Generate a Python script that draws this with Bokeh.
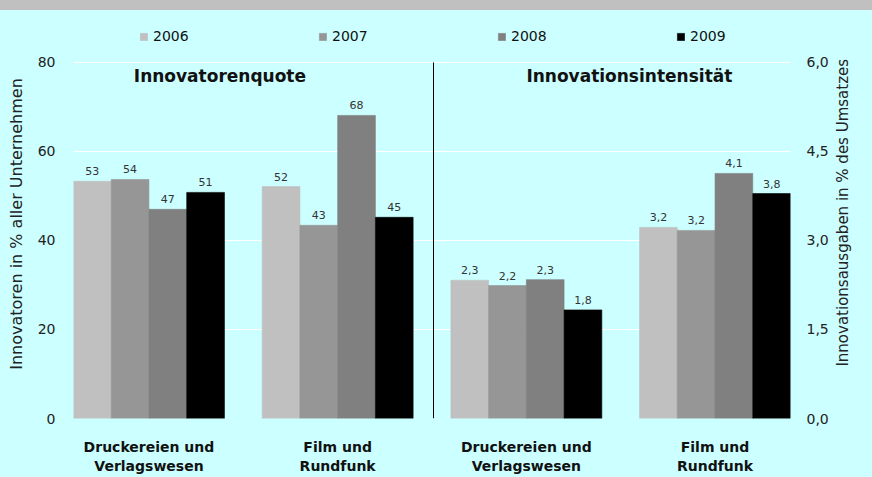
import math
from bokeh.plotting import figure
from bokeh.layouts import column, row
from bokeh.models import (Range1d, LinearAxis, FixedTicker, CustomJSTickFormatter,
                          Label, Legend, LegendItem, Div)
from bokeh.core.properties import value
from bokeh.embed import file_html
from bokeh.resources import INLINE

# ---- data ----
years = ["2006", "2007", "2008", "2009"]
categories = ["Druckereien und\nVerlagswesen", "Film und\nRundfunk"]
colors = ["#c0c0c0", "#969696", "#808080", "#000000"]

# Innovatorenquote (% of firms), per year: [Druckereien, Film]
quote_2006 = [53.3, 52.1]
quote_2007 = [53.7, 43.4]
quote_2008 = [47.0, 68.1]
quote_2009 = [50.8, 45.2]
# Innovationsintensität (% of turnover), per year: [Druckereien, Film]
intens_2006 = [2.33, 3.22]
intens_2007 = [2.24, 3.17]
intens_2008 = [2.34, 4.13]
intens_2009 = [1.83, 3.79]

left_ticks = [0, 20, 40, 60, 80]
right_ticks = [0, 1.5, 3.0, 4.5, 6.0]

quote = [quote_2006, quote_2007, quote_2008, quote_2009]
intens = [intens_2006, intens_2007, intens_2008, intens_2009]

left_title = "Innovatoren in % aller Unternehmen"
right_title = "Innovationsausgaben in % des Umsatzes"

BG = "#ccffff"
FONT = "DejaVu Sans"

# the frame reaches up to the legend row, so the value axes stop at 80 / 6,0
LEFT_MAX = 87.4
RIGHT_MAX = LEFT_MAX * 6.0 / 80.0

p = figure(width=832, height=467, x_range=Range1d(0, 19), y_range=Range1d(0, LEFT_MAX),
           output_backend="svg", toolbar_location=None,
           min_border_left=73, min_border_right=42, min_border_top=19, min_border_bottom=59,
           background_fill_color=BG, border_fill_color=BG, outline_line_color=None, margin=0)
p.extra_y_ranges = {"right": Range1d(0, RIGHT_MAX)}

# grid
p.xgrid.visible = False
p.ygrid.grid_line_color = "white"
p.ygrid.grid_line_width = 1

# left axis
ya = p.yaxis[0]
ya.ticker = FixedTicker(ticks=left_ticks)
ya.axis_label = left_title
ya.axis_label_text_font = FONT
ya.axis_label_text_font_size = "16px"
ya.axis_label_text_font_style = "normal"
ya.axis_label_text_color = "#222222"
ya.axis_label_standoff = 9
ya.major_label_text_font = FONT
ya.major_label_text_font_size = "14px"
ya.major_label_text_color = "#222222"
ya.major_label_standoff = 12
ya.axis_line_color = None
ya.major_tick_line_color = None
ya.minor_tick_line_color = None

# right axis (ticks only; its title sits in the narrow strip to the right)
ra = LinearAxis(y_range_name="right", ticker=FixedTicker(ticks=right_ticks),
                formatter=CustomJSTickFormatter(code="return tick.toFixed(1).replace('.', ',');"))
ra.major_label_text_font = FONT
ra.major_label_text_font_size = "14px"
ra.major_label_text_color = "#222222"
ra.major_label_standoff = 10
ra.axis_line_color = None
ra.major_tick_line_color = None
ra.minor_tick_line_color = None
p.add_layout(ra, "right")

# bottom axis with category labels
bases = [0, 5, 10, 15]
centers = [b + 2 for b in bases]
xa = p.xaxis[0]
xa.ticker = FixedTicker(ticks=centers)
xa.major_label_overrides = {centers[0]: categories[0], centers[1]: categories[1],
                            centers[2]: categories[0], centers[3]: categories[1]}
xa.major_label_text_font = FONT
xa.major_label_text_font_size = "14px"
xa.major_label_text_font_style = "bold"
xa.major_label_text_color = "#111111"
xa.major_label_standoff = 14
xa.axis_line_color = None
xa.major_tick_line_color = None
xa.minor_tick_line_color = None

# bars
legend_items = []
for k, year in enumerate(years):
    xl = [bases[0] + k + 0.5, bases[1] + k + 0.5]
    xr = [bases[2] + k + 0.5, bases[3] + k + 0.5]
    r = p.vbar(x=xl, top=quote[k], width=1, fill_color=colors[k],
               line_color=colors[k], line_width=0.6)
    p.vbar(x=xr, top=intens[k], width=1, fill_color=colors[k],
           line_color=colors[k], line_width=0.6, y_range_name="right")
    legend_items.append(LegendItem(label=year, renderers=[r]))
    p.text(x=xl, y=quote[k], text=[f"{v:.0f}" for v in quote[k]],
           text_align="center", text_baseline="bottom", y_offset=-6,
           text_font=value(FONT), text_font_size="11px", text_color="#333333")
    p.text(x=xr, y=intens[k], text=[f"{v:.1f}".replace(".", ",") for v in intens[k]],
           text_align="center", text_baseline="bottom", y_offset=-6,
           text_font=value(FONT), text_font_size="11px", text_color="#333333",
           y_range_name="right")

# separator between the two panels (spans the value axis 0..80)
sep_x = 9.54
p.segment(x0=[sep_x], y0=[left_ticks[0]], x1=[sep_x], y1=[left_ticks[-1]],
          line_color="#000000", line_width=1)

# panel titles
for tx, txt in [(3.88, "Innovatorenquote"), (14.73, "Innovationsintensität")]:
    p.add_layout(Label(x=tx, y=77.0, text=txt, text_align="center", text_baseline="middle",
                       text_font=FONT, text_font_size="17px", text_font_style="bold",
                       text_color="#111111"))

legend = Legend(items=legend_items, orientation="horizontal", location=(66, 374),
                glyph_width=9, glyph_height=9, label_standoff=5, label_width=36,
                spacing=129, padding=0, margin=0, border_line_color=None,
                background_fill_alpha=0, label_text_font=FONT,
                label_text_font_size="14px", label_text_color="#111111")
p.add_layout(legend)

# narrow strip carrying the right-hand axis title (reads bottom-to-top)
side = figure(width=40, height=467, x_range=Range1d(0, 40), y_range=Range1d(0, 467),
              output_backend="svg", toolbar_location=None, min_border=0,
              x_axis_location=None, y_axis_location=None,
              background_fill_color=BG, border_fill_color=BG, outline_line_color=None,
              margin=0)
side.grid.visible = False
side.add_layout(Label(x=10, y=247, angle=math.pi / 2, text=right_title,
                      text_align="center", text_baseline="middle", text_font=FONT,
                      text_font_size="15px", text_color="#222222"))

top_bar = Div(text="", width=872, height=10, margin=0,
              styles={"background-color": "#c0c0c0"})
body = row(p, side, spacing=0, margin=0, styles={"background-color": BG})
layout = column(top_bar, body, spacing=0, margin=0, styles={"background-color": BG})

open("out.html", "w").write(file_html(layout, INLINE))
